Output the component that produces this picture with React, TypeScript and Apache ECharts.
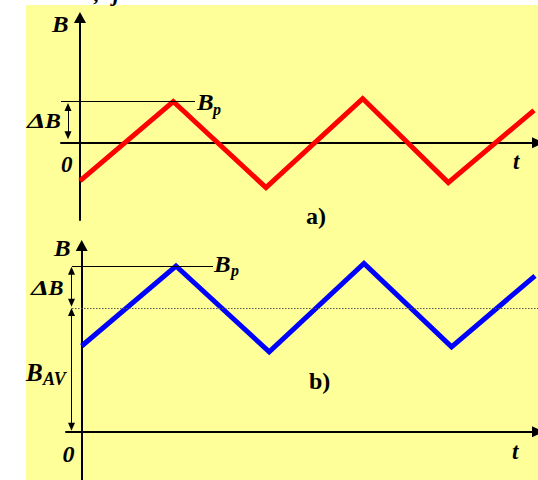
import React, { useEffect, useRef } from "react";
import * as echarts from "echarts";

// Panel a) : triangular flux around zero
const tA = [0, 1.985, 3.957, 6.015, 7.836, 9.66];
const bA = [-0.91, 0.98, -1.07, 1.05, -0.95, 0.77];
// Panel b) : triangular flux around B_AV
const tB = [0, 2.006, 3.99, 6.006, 7.87, 9.645];
const bB = [2.04, 3.945, 1.9, 4.005, 2.02, 3.71];

const bpA = 0.98; // Bp level in a)
const bpB = 3.945; // Bp level in b)
const bavB = 2.945; // B_AV level in b)

// axis ranges
const xRangeA = [-0.404, 9.745];
const yRangeA = [-1.84, 2.98];
const xRangeB = [-0.334, 9.709];
const yRangeB = [-1.15, 4.433];

// annotation arrow ends (in B units)
const arrowA = [0.85, 0.18];
const arrowB1 = [3.833, 3.07];
const arrowB2 = [2.85, 0.119];

function txt(
  text: string,
  x: number,
  y: number,
  size: number,
  italic = true,
  scaleX = 1
) {
  return {
    type: "text",
    x,
    y,
    scaleX,
    z: 100,
    silent: true,
    style: {
      text,
      fill: "#000",
      fontFamily: "Liberation Serif",
      fontSize: size,
      fontWeight: "bold",
      fontStyle: italic ? "italic" : "normal",
      verticalAlign: "middle",
      align: "left",
    },
  };
}

function axisX(gridIndex: number, range: number[]) {
  return {
    type: "value",
    gridIndex,
    min: range[0],
    max: range[1],
    axisLine: {
      show: true,
      onZero: true,
      symbol: ["none", "triangle"],
      symbolSize: [11, 12],
      lineStyle: { color: "#000", width: 2 },
    },
    axisTick: { show: false },
    axisLabel: { show: false },
    splitLine: { show: false },
  };
}

function axisY(gridIndex: number, range: number[]) {
  return {
    type: "value",
    gridIndex,
    min: range[0],
    max: range[1],
    axisLine: {
      show: true,
      onZero: true,
      symbol: ["none", "triangle"],
      symbolSize: [12, 11],
      lineStyle: { color: "#000", width: 2 },
    },
    axisTick: { show: false },
    axisLabel: { show: false },
    splitLine: { show: false },
  };
}

const thin = { color: "#000", width: 1, type: "solid" };
const arrowEnd = { symbol: "triangle", symbolSize: [7, 8], lineStyle: thin };
const plainEnd = { symbol: "none", lineStyle: thin };

export default function App() {
  const ref = useRef<HTMLDivElement>(null);
  useEffect(() => {
    if (!ref.current) return;
    const chart = echarts.init(ref.current, null, { renderer: "svg" });
    const option: any = {
      animation: false,
      backgroundColor: "#ffffff",
      grid: [
        { left: 61, right: 0, top: 17.5, height: 202.5 },
        { left: 66, right: 0, top: 245.5, height: 234.5 },
      ],
      xAxis: [axisX(0, xRangeA), axisX(1, xRangeB)],
      yAxis: [axisY(0, yRangeA), axisY(1, yRangeB)],
      series: [
        {
          type: "line",
          xAxisIndex: 0,
          yAxisIndex: 0,
          data: tA.map((t, i) => [t, bA[i]]),
          symbol: "none",
          showSymbol: false,
          clip: false,
          silent: true,
          lineStyle: { color: "#ff0000", width: 5, join: "miter", cap: "butt" },
          markLine: {
            silent: true,
            animation: false,
            label: { show: false },
            data: [
              [
                { coord: [-0.404, bpA], ...plainEnd },
                { coord: [2.447, bpA], ...plainEnd },
              ],
              [
                { coord: [-0.255, arrowA[0]], ...arrowEnd },
                { coord: [-0.255, arrowA[1]], ...arrowEnd },
              ],
            ],
          },
        },
        {
          type: "line",
          xAxisIndex: 1,
          yAxisIndex: 1,
          data: tB.map((t, i) => [t, bB[i]]),
          symbol: "none",
          showSymbol: false,
          clip: false,
          silent: true,
          lineStyle: { color: "#0000ff", width: 5, join: "miter", cap: "butt" },
          markLine: {
            silent: true,
            animation: false,
            label: { show: false },
            data: [
              [
                { coord: [-0.206, bpB], ...plainEnd },
                { coord: [2.794, bpB], ...plainEnd },
              ],
              [
                {
                  coord: [-0.206, bavB],
                  symbol: "none",
                  lineStyle: { color: "#555", width: 1.2, type: [1.5, 1.5] },
                },
                {
                  coord: [xRangeB[1], bavB],
                  symbol: "none",
                  lineStyle: { color: "#555", width: 1.2, type: [1.5, 1.5] },
                },
              ],
              [
                { coord: [-0.217, arrowB1[0]], ...arrowEnd },
                { coord: [-0.217, arrowB1[1]], ...arrowEnd },
              ],
              [
                { coord: [-0.217, arrowB2[0]], ...arrowEnd },
                { coord: [-0.217, arrowB2[1]], ...arrowEnd },
              ],
            ],
          },
        },
      ],
      graphic: [
        {
          type: "rect",
          z: -10,
          silent: true,
          shape: { x: 26, y: 5, width: 512, height: 475 },
          style: { fill: "#FFFF99" },
        },
        txt(",", 94, -7, 22),
        txt("j", 113, -7, 22),
        // panel a)
        txt("B", 52, 24.5, 23, true, 1.08),
        txt("B", 197, 102.5, 23, true, 1.08),
        txt("p", 213, 109.5, 16),
        txt("\u0394", 27, 121, 22, true, 1.35),
        txt("B", 45, 121, 22, true, 1.08),
        txt("0", 61, 164, 23),
        txt("t", 513, 161.5, 23),
        txt("a)", 306, 216, 24, false),
        // panel b)
        txt("B", 54, 248, 23, true, 1.08),
        txt("B", 214, 264, 23, true, 1.08),
        txt("p", 231, 270.5, 16),
        txt("\u0394", 31, 287.5, 22, true, 1.3),
        txt("B", 48.5, 287.5, 22, true, 1.02),
        txt("B", 26, 372.5, 25),
        txt("AV", 43, 378.5, 18),
        txt("0", 62.5, 453.5, 24),
        txt("t", 512, 451.5, 23),
        txt("b)", 309, 381, 24, false),
      ],
    };
    chart.setOption(option);
    return () => chart.dispose();
  }, []);
  return (
    <div
      ref={ref}
      style={{ position: "absolute", left: 0, top: 0, width: 538, height: 480 }}
    />
  );
}
